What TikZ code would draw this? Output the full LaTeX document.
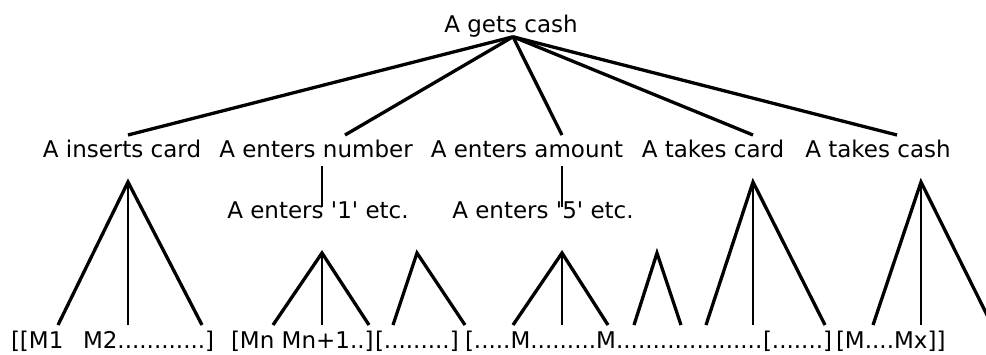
\documentclass[tikz,border=0pt]{standalone}
\usepackage{fontspec}
\usetikzlibrary{calc}
\newfontfamily\diagfont{DejaVu Sans}
\begin{document}
\begin{tikzpicture}[x=1pt,y=-1pt,
  lbl/.style={inner sep=0pt,outer sep=0pt,anchor=base,font=\diagfont\fontsize{23}{27}\selectfont},
  seq/.style={lbl,anchor=base west},
  branch/.style={line width=3.3pt},
  stem/.style={line width=2.4pt}]
\clip (0,0) rectangle (986,354);
\fill[white] (0,0) rectangle (986,354);

% goal and its five steps
\node[lbl] (root) at (511,32) {A gets cash};
\node[lbl] (ic) at (122,157) {A inserts card};
\node[lbl] (en) at (316,157) {A enters number};
\node[lbl] (ea) at (527,157) {A enters amount};
\node[lbl] (tc) at (713,157) {A takes card};
\node[lbl] (tk) at (878,157) {A takes cash};

% sub-steps
\node[lbl] (e1) at (318,218) {A enters '1' etc.};
\node[lbl] (e5) at (543,218) {A enters '5' etc.};

% attachment points above the step labels
\coordinate (top) at ($(root.south)+(2,0)$);
\coordinate (ic-t) at (128,135);
\coordinate (en-t) at (345,135);
\coordinate (ea-t) at (562,135);
\coordinate (tc-t) at (753,135);
\coordinate (tk-t) at (897,135);

\foreach \c in {ic-t,en-t,ea-t,tc-t,tk-t}
  \draw[branch] (top) -- (\c);

% stems from the entry steps to their sub-steps
\coordinate (en-b) at (322,166);
\coordinate (e1-t) at (322,207);
\coordinate (ea-b) at (562,166);
\coordinate (e5-t) at (562,207);
\draw[stem] (en-b) -- (e1-t);
\draw[stem] (ea-b) -- (e5-t);

% movement sequence along the bottom
\node[seq] (b1) at (11,348) {[[M1};
\node[seq] (b2) at (83,348) {M2............]};
\node[seq] (b3) at (231,348) {[Mn Mn+1..]};
\node[seq] (b4) at (375,348) {[.........]};
\node[seq] (b5) at (465,348) {[.....M.........M....................};
\node[seq] (b6) at (763,348) {[.......]};
\node[seq] (b7) at (836,348) {[M....Mx]]};

% fans down to the movements
\coordinate (f1) at (128,182);
\draw[branch] (58,325) -- (f1) -- (202,325);
\draw[stem] (f1) -- (128,325);

\coordinate (f2) at (322,253);
\draw[branch] (273,325) -- (f2) -- (369,325);
\draw[stem] (f2) -- (322,325);

\coordinate (f3) at (417,253);
\draw[branch] (393,325) -- (f3) -- (465,325);

\coordinate (f4) at (562,253);
\draw[branch] (513,325) -- (f4) -- (608,325);
\draw[stem] (f4) -- (562,325);

\coordinate (f5) at (657,253);
\draw[branch] (634,325) -- (f5) -- (681,325);

\coordinate (f6) at (753,182);
\draw[branch] (706,325) -- (f6) -- (825,325);
\draw[stem] (f6) -- (753,325);

\coordinate (f7) at (921,182);
\draw[branch] (873,325) -- (f7) -- (992,325);
\draw[stem] (f7) -- (921,325);
\end{tikzpicture}
\end{document}
